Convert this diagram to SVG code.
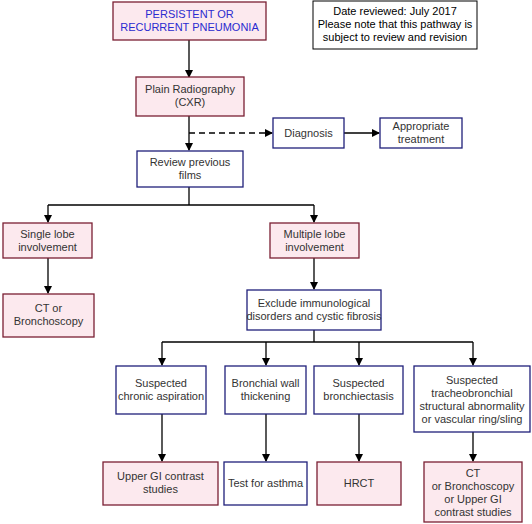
<svg xmlns="http://www.w3.org/2000/svg" width="532" height="524" viewBox="0 0 532 524">
<defs>
<marker id="ah" markerWidth="8" markerHeight="8" refX="7" refY="4" orient="auto" markerUnits="userSpaceOnUse">
<path d="M0,0 L8,4 L0,8 Z" fill="#000"/>
</marker>
<style>
text{font-family:"Liberation Sans",Arial,sans-serif;font-size:11px;fill:#333;text-anchor:middle}
.pink{fill:#fce9ee;stroke:#7a1f33;stroke-width:1.3}
.blue{fill:#fff;stroke:#1f1f7a;stroke-width:1.3}
.note{fill:#fff;stroke:#000;stroke-width:1}
.c{fill:none;stroke:#000;stroke-width:1.3}
.t{fill:#2b2bd0}
</style>
</defs>
<rect width="532" height="524" fill="#fff"/>
<g id="connectors">
<line class="c" x1="189" y1="40" x2="189" y2="77" marker-end="url(#ah)"/>
<line class="c" x1="189" y1="116" x2="189" y2="150" marker-end="url(#ah)"/>
<line class="c" x1="189" y1="133" x2="272" y2="133" stroke-dasharray="6,4" marker-end="url(#ah)"/>
<line class="c" x1="344" y1="133" x2="379" y2="133" marker-end="url(#ah)"/>
<polyline class="c" points="189,187 189,205"/>
<line class="c" x1="48" y1="205" x2="314" y2="205"/>
<line class="c" x1="48" y1="205" x2="48" y2="222" marker-end="url(#ah)"/>
<line class="c" x1="314" y1="205" x2="314" y2="222" marker-end="url(#ah)"/>
<line class="c" x1="48" y1="258" x2="48" y2="293" marker-end="url(#ah)"/>
<line class="c" x1="314" y1="258" x2="314" y2="289" marker-end="url(#ah)"/>
<line class="c" x1="314" y1="330" x2="314" y2="342"/>
<line class="c" x1="162" y1="342" x2="473" y2="342"/>
<line class="c" x1="162" y1="342" x2="162" y2="365" marker-end="url(#ah)"/>
<line class="c" x1="266" y1="342" x2="266" y2="365" marker-end="url(#ah)"/>
<line class="c" x1="359" y1="342" x2="359" y2="365" marker-end="url(#ah)"/>
<line class="c" x1="473" y1="342" x2="473" y2="365" marker-end="url(#ah)"/>
<line class="c" x1="162" y1="414" x2="162" y2="461" marker-end="url(#ah)"/>
<line class="c" x1="266" y1="414" x2="266" y2="461" marker-end="url(#ah)"/>
<line class="c" x1="359" y1="414" x2="359" y2="461" marker-end="url(#ah)"/>
<line class="c" x1="473" y1="432" x2="473" y2="461" marker-end="url(#ah)"/>
</g>
<g id="n-top"><rect class="pink" x="113" y="2" width="153" height="38"/><text class="t" x="189.5" y="18">PERSISTENT OR</text><text class="t" x="189.5" y="31">RECURRENT PNEUMONIA</text></g>
<g id="n-note"><rect class="note" x="313" y="1" width="164" height="48"/><text x="395" y="15" style="fill:#000">Date reviewed: July 2017</text><text x="395" y="28" style="fill:#000">Please note that this pathway is</text><text x="395" y="41" style="fill:#000">subject to review and revision</text></g>
<g id="n-cxr"><rect class="pink" x="136" y="77" width="108" height="39"/><text x="190" y="93">Plain Radiography</text><text x="190" y="106">(CXR)</text></g>
<g id="n-diag"><rect class="blue" x="273" y="118" width="71" height="30"/><text x="308.5" y="137">Diagnosis</text></g>
<g id="n-treat"><rect class="blue" x="380" y="118" width="82" height="30"/><text x="421" y="130">Appropriate</text><text x="421" y="143">treatment</text></g>
<g id="n-review"><rect class="blue" x="137" y="151" width="106" height="36"/><text x="190" y="166">Review previous</text><text x="190" y="179">films</text></g>
<g id="n-single"><rect class="pink" x="3" y="223" width="89" height="35"/><text x="47.5" y="238">Single lobe</text><text x="47.5" y="251">involvement</text></g>
<g id="n-multi"><rect class="pink" x="270" y="223" width="89" height="35"/><text x="314.5" y="238">Multiple lobe</text><text x="314.5" y="251">involvement</text></g>
<g id="n-ct1"><rect class="pink" x="3" y="294" width="91" height="43"/><text x="48.5" y="312">CT or</text><text x="48.5" y="325">Bronchoscopy</text></g>
<g id="n-excl"><rect class="blue" x="247" y="290" width="134" height="40"/><text x="314" y="307">Exclude immunological</text><text x="314" y="320">disorders and cystic fibrosis</text></g>
<g id="n-asp"><rect class="blue" x="116" y="366" width="90" height="48"/><text x="161" y="387">Suspected</text><text x="161" y="400">chronic aspiration</text></g>
<g id="n-wall"><rect class="blue" x="225" y="366" width="81" height="48"/><text x="265.5" y="387">Bronchial wall</text><text x="265.5" y="400">thickening</text></g>
<g id="n-bx"><rect class="blue" x="314" y="366" width="89" height="48"/><text x="358.5" y="387">Suspected</text><text x="358.5" y="400">bronchiectasis</text></g>
<g id="n-trach"><rect class="blue" x="414" y="366" width="116" height="66"/><text x="472" y="384">Suspected</text><text x="472" y="397">tracheobronchial</text><text x="472" y="410">structural abnormality</text><text x="472" y="423">or vascular ring/sling</text></g>
<g id="n-ugi"><rect class="pink" x="103" y="462" width="115" height="43"/><text x="160.5" y="480">Upper GI contrast</text><text x="160.5" y="493">studies</text></g>
<g id="n-asthma"><rect class="blue" x="224" y="462" width="83" height="43"/><text x="265.5" y="487">Test for asthma</text></g>
<g id="n-hrct"><rect class="pink" x="317" y="462" width="84" height="43"/><text x="359" y="487">HRCT</text></g>
<g id="n-ct2"><rect class="pink" x="424" y="462" width="98" height="60"/><text x="473" y="477">CT</text><text x="473" y="490">or Bronchoscopy</text><text x="473" y="503">or Upper GI</text><text x="473" y="516">contrast studies</text></g>
</svg>
